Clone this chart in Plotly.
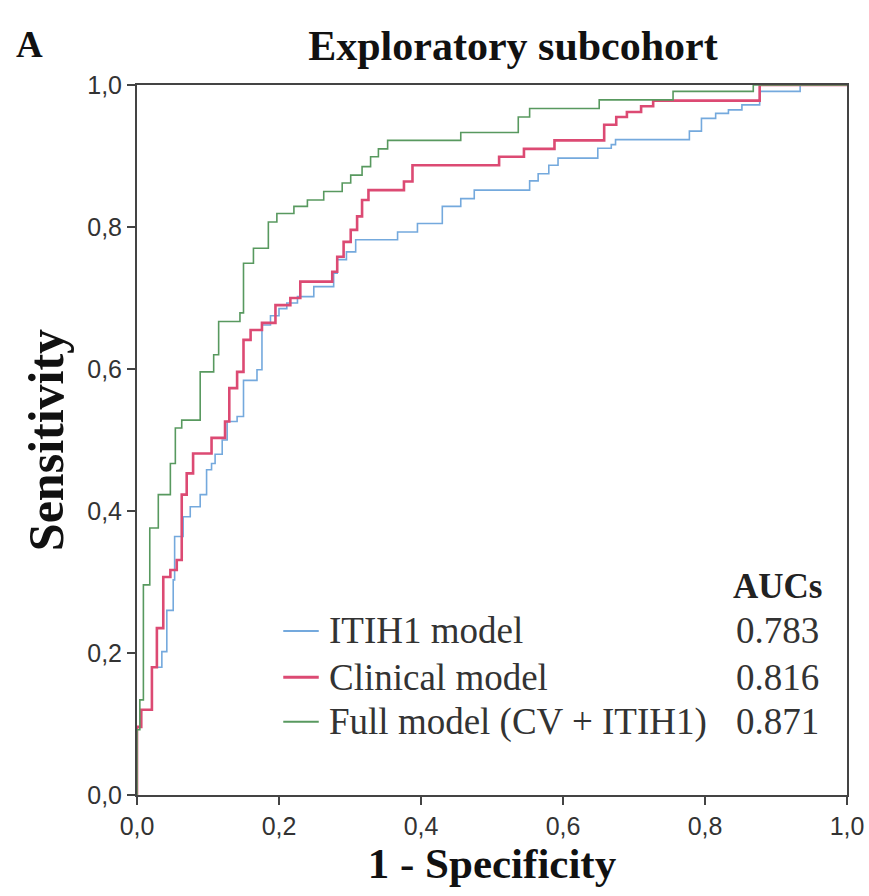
import plotly.graph_objects as go

# ROC step curves: (1 - specificity, sensitivity) at each vertical rise
itih1_fpr = [0, 0, 0.006, 0.021, 0.035, 0.042, 0.051, 0.053, 0.065, 0.075, 0.089, 0.098, 0.105,
             0.11, 0.12, 0.127, 0.141, 0.15, 0.169, 0.176, 0.188, 0.2, 0.211, 0.226, 0.249,
             0.277, 0.282, 0.295, 0.308, 0.367, 0.395, 0.43, 0.456, 0.475, 0.553, 0.565,
             0.58, 0.593, 0.649, 0.668, 0.674, 0.778, 0.795, 0.815, 0.833, 0.852, 0.877,
             0.877, 0.934, 1.0]
itih1_tpr = [0, 0.096, 0.12, 0.18, 0.202, 0.26, 0.303, 0.364, 0.392, 0.406, 0.423, 0.458, 0.467,
             0.48, 0.50, 0.526, 0.533, 0.584, 0.599, 0.662, 0.675, 0.685, 0.693, 0.702, 0.716,
             0.735, 0.754, 0.765, 0.782, 0.793, 0.805, 0.829, 0.84, 0.852, 0.865, 0.875,
             0.887, 0.897, 0.911, 0.916, 0.923, 0.935, 0.953, 0.96, 0.965, 0.972, 0.979,
             0.991, 1.0, 1.0]

clin_fpr = [0, 0, 0.006, 0.021, 0.028, 0.037, 0.047, 0.056, 0.063, 0.07, 0.079, 0.105, 0.124,
            0.13, 0.141, 0.15, 0.16, 0.176, 0.195, 0.216, 0.23, 0.275, 0.282, 0.291, 0.301,
            0.31, 0.317, 0.326, 0.376, 0.388, 0.51, 0.545, 0.588, 0.658, 0.675, 0.69, 0.71,
            0.727, 0.877, 1.0]
clin_tpr = [0, 0.096, 0.12, 0.18, 0.235, 0.307, 0.317, 0.331, 0.423, 0.453, 0.481, 0.503, 0.526,
            0.573, 0.596, 0.641, 0.655, 0.665, 0.69, 0.70, 0.723, 0.737, 0.758, 0.779, 0.796,
            0.815, 0.838, 0.852, 0.864, 0.887, 0.899, 0.91, 0.922, 0.944, 0.955, 0.962, 0.97,
            0.978, 1.0, 1.0]

full_fpr = [0, 0, 0.004, 0.009, 0.018, 0.03, 0.047, 0.054, 0.063, 0.089, 0.108, 0.115, 0.145,
            0.15, 0.164, 0.185, 0.197, 0.221, 0.24, 0.263, 0.289, 0.301, 0.317, 0.329, 0.34,
            0.353, 0.456, 0.537, 0.553, 0.651, 0.755, 0.868, 1.0]
full_tpr = [0, 0.092, 0.134, 0.296, 0.376, 0.423, 0.467, 0.517, 0.528, 0.596, 0.62, 0.667, 0.679,
            0.749, 0.77, 0.807, 0.819, 0.829, 0.838, 0.85, 0.862, 0.873, 0.885, 0.899, 0.91,
            0.922, 0.933, 0.955, 0.967, 0.979, 0.991, 1.0, 1.0]

model_names = ["ITIH1 model", "Clinical model", "Full model (CV + ITIH1)"]
auc_values = ["0.783", "0.816", "0.871"]
tick_vals = [0.0, 0.2, 0.4, 0.6, 0.8, 1.0]
tick_text = ["0,0", "0,2", "0,4", "0,6", "0,8", "1,0"]

colors = ["#74a9dd", "#dc4a73", "#58995f"]
widths = [1.6, 2.6, 1.6]
series = [(itih1_fpr, itih1_tpr), (clin_fpr, clin_tpr), (full_fpr, full_tpr)]

fig = go.Figure()
for (fx, ty), name, c, w in zip(series, model_names, colors, widths):
    fig.add_trace(go.Scatter(x=fx, y=ty, mode="lines", name=name,
                             line=dict(color=c, width=w, shape="hv"),
                             showlegend=False, hoverinfo="x+y+name"))

W, H = 869, 896
ML, MR, MT, MB = 137, 22, 85, 101
PW, PH = W - ML - MR, H - MT - MB

def px_x(px):  # page pixel -> paper x
    return (px - ML) / PW

def px_y(py):  # page pixel -> paper y
    return (H - MB - py) / PH

serif = "Liberation Serif"
axis_common = dict(range=[0, 1], tickvals=tick_vals, ticktext=tick_text,
                   ticks="outside", ticklen=8, tickwidth=2, tickcolor="#444",
                   showline=True, linecolor="#444", linewidth=2, mirror=True,
                   showgrid=False, zeroline=False, automargin=False,
                   tickfont=dict(family="Liberation Sans", size=25, color="#333"))

fig.update_layout(
    width=W, height=H,
    margin=dict(l=ML, r=MR, t=MT, b=MB),
    paper_bgcolor="white", plot_bgcolor="white",
    xaxis=dict(**axis_common,
               title=dict(text="<b>1 - Specificity</b>", standoff=8,
                          font=dict(family=serif, size=43, color="#111"))),
    yaxis=dict(**axis_common,
               title=dict(text="<b>Sensitivity</b>", standoff=8,
                          font=dict(family=serif, size=50, color="#111"))),
    title=dict(text="<b>Exploratory subcohort</b>", xref="paper", x=px_x(513),
               xanchor="center", yref="container", y=1 - 45 / H, yanchor="middle",
               font=dict(family=serif, size=42, color="#111")),
)

# Panel letter
fig.add_annotation(text="<b>A</b>", xref="paper", yref="paper", x=px_x(14), y=px_y(44),
                   xanchor="left", yanchor="middle", showarrow=False,
                   font=dict(family=serif, size=37, color="#111"))

# Custom legend with AUC column
fig.add_annotation(text="<b>AUCs</b>", x=0.967, y=0.293, xref="x", yref="y",
                   xanchor="right", yanchor="middle", showarrow=False,
                   font=dict(family=serif, size=35, color="#222"))
row_y = [0.231, 0.166, 0.103]
for name, auc, c, w, yy in zip(model_names, auc_values, colors, widths, row_y):
    fig.add_shape(type="line", x0=0.206, x1=0.256, y0=yy, y1=yy, xref="x", yref="y",
                  line=dict(color=c, width=w + 0.4))
    fig.add_annotation(text=name, x=0.268, y=yy, xref="x", yref="y",
                       xanchor="left", yanchor="middle", showarrow=False,
                       font=dict(family=serif, size=37, color="#333"))
    fig.add_annotation(text=auc, x=0.963, y=yy, xref="x", yref="y",
                       xanchor="right", yanchor="middle", showarrow=False,
                       font=dict(family=serif, size=37, color="#333"))

fig.write_html("out.html",
               config={"displayModeBar": False},
               post_script="document.body.style.margin='0px';"
                           "document.body.style.overflow='hidden';")
